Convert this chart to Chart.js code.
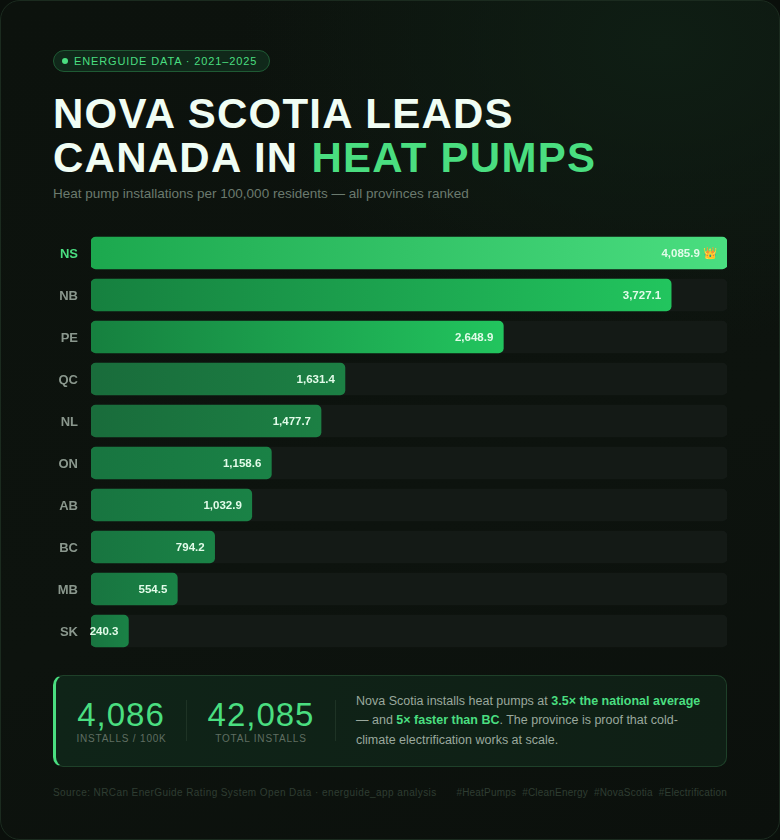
<!DOCTYPE html>
<html>
<head>
<meta charset="utf-8">
<script src="https://cdn.jsdelivr.net/npm/chart.js@4"></script>
<style>
* { box-sizing: border-box; margin: 0; padding: 0; }
html, body { width: 780px; height: 840px; background: #0a0f0b; overflow: hidden; font-family: "Liberation Sans", Arial, sans-serif; }
.card { position: absolute; left: 0; top: 0; width: 780px; height: 840px; border: 1px solid #1b2b1f; border-radius: 20px; background: radial-gradient(ellipse 420px 300px at 85% 5%, #0f1e14 0%, rgba(15,30,20,0) 100%), linear-gradient(160deg, #0c120d 0%, #0d130e 60%, #0b100c 100%); }
.badge { position: absolute; left: 53px; top: 50px; width: 217px; height: 22px; border: 1px solid #1f5a34; border-radius: 11px; background: #10281a; color: #4ade80; font-size: 11px; letter-spacing: .88px; line-height: 20px; padding-left: 20px; white-space: nowrap; }
.badge i { position: absolute; left: 8px; top: 7px; width: 6px; height: 6px; border-radius: 50%; background: #4ade80; }
h1 { position: absolute; left: 53px; top: 92px; font-size: 42px; line-height: 44px; font-weight: 700; letter-spacing: 1.26px; color: #f0fdf4; white-space: nowrap; }
h1 span { color: #4ade80; }
.sub { position: absolute; left: 53px; top: 186px; font-size: 13.5px; line-height: 15px; color: #6b7a6e; white-space: nowrap; }
.chart { position: absolute; left: 53px; top: 232px; width: 674px; height: 420px; }
.panel { position: absolute; left: 53px; top: 675px; width: 674px; height: 92px; border: 1px solid #1e4029; border-left: 3px solid #4ade80; border-radius: 10px; background: linear-gradient(90deg, #0f2418, #0f1f15); }
.num { position: absolute; color: #4ade80; font-size: 33px; line-height: 36px; letter-spacing: 1px; white-space: nowrap; text-align: center; }
.lab { position: absolute; color: #5f6e62; font-size: 10px; line-height: 12px; letter-spacing: .8px; white-space: nowrap; text-align: center; }
.rule { position: absolute; top: 700px; width: 1px; height: 41px; background: #1e3325; }
.note { position: absolute; left: 356px; top: 691.5px; width: 350px; font-size: 12.5px; line-height: 19.5px; color: #9aa89d; }
.note b { color: #4ade80; }
.src, .tags { position: absolute; top: 787px; font-size: 10px; line-height: 12px; color: #2f3d32; white-space: nowrap; }
.src { left: 53px; letter-spacing: .41px; }
.tags { right: 53px; letter-spacing: .2px; }
</style>
</head>
<body>
<div class="card"></div>
<div class="badge"><i></i>ENERGUIDE DATA · 2021–2025</div>
<h1>NOVA SCOTIA LEADS<br>CANADA IN <span>HEAT PUMPS</span></h1>
<div class="sub">Heat pump installations per 100,000 residents — all provinces ranked</div>
<div class="chart"><canvas id="barChart"></canvas></div>
<div class="panel"></div>
<div class="num" style="left:54px;top:697px;width:134px">4,086</div>
<div class="lab" style="left:53px;top:733px;width:137px">INSTALLS / 100K</div>
<div class="rule" style="left:186px"></div>
<div class="num" style="left:187px;top:697px;width:148px">42,085</div>
<div class="lab" style="left:187px;top:733px;width:148px">TOTAL INSTALLS</div>
<div class="rule" style="left:335px"></div>
<div class="note">Nova Scotia installs heat pumps at <b>3.5× the national average</b> — and <b>5× faster than BC</b>. The province is proof that cold-climate electrification works at scale.</div>
<div class="src">Source: NRCan EnerGuide Rating System Open Data · energuide_app analysis</div>
<div class="tags">#HeatPumps &nbsp;#CleanEnergy &nbsp;#NovaScotia &nbsp;#Electrification</div>

<script>
'use strict';

const provinces = ['NS', 'NB', 'PE', 'QC', 'NL', 'ON', 'AB', 'BC', 'MB', 'SK'];
const installs = [4085.9, 3727.1, 2648.9, 1631.4, 1477.7, 1158.6, 1032.9, 794.2, 554.5, 240.3];
const trackValues = [4085.9, 4085.9, 4085.9, 4085.9, 4085.9, 4085.9, 4085.9, 4085.9, 4085.9, 4085.9];

// gradient stops for each bar, left then right
const barStart = ['#1ca84e', '#16803f', '#16803f', '#196c3b', '#196c3b', '#187540', '#187540', '#187540', '#187540', '#187540'];
const barEnd = ['#4ade80', '#22c55e', '#22c55e', '#1c8044', '#1c8044', '#1a8246', '#1a8246', '#1a8246', '#1a8246', '#1a8246'];

function barGradient(context) {
    const area = context.chart.chartArea;
    const i = context.dataIndex;
    if (!area) return barEnd[i];
    const right = area.left + area.width * installs[i] / installs[0];
    const g = context.chart.ctx.createLinearGradient(area.left, 0, right, 0);
    g.addColorStop(0, barStart[i]);
    g.addColorStop(1, barEnd[i]);
    return g;
}

// value text inside the end of each bar
const valueLabels = {
    id: 'valueLabels',
    afterDatasetsDraw(chart) {
        const ctx = chart.ctx;
        ctx.save();
        ctx.font = 'bold 11.5px "Liberation Sans", Arial, sans-serif';
        ctx.fillStyle = '#e2fbe9';
        ctx.textAlign = 'right';
        ctx.textBaseline = 'middle';
        chart.getDatasetMeta(1).data.forEach((bar, i) => {
            let text = installs[i].toLocaleString('en-US', { minimumFractionDigits: 1 });
            if (i === 0) text += ' 👑';
            ctx.fillText(text, bar.x - 10, bar.y + 1);
        });
        ctx.restore();
    }
};

const ctx = document.getElementById('barChart').getContext('2d');
const chart = new Chart(ctx, {
    type: 'bar',
    data: {
        labels: provinces,
        datasets: [{
            data: trackValues,
            backgroundColor: '#141a16',
            borderRadius: 5,
            borderSkipped: false,
            barThickness: 32,
            order: 2
        }, {
            data: installs,
            backgroundColor: barGradient,
            borderRadius: 5,
            borderSkipped: false,
            barThickness: 32,
            order: 1
        }]
    },
    options: {
        indexAxis: 'y',
        responsive: true,
        maintainAspectRatio: false,
        animation: false,
        layout: { padding: 0 },
        plugins: { legend: { display: false }, tooltip: { enabled: false } },
        datasets: { bar: { grouped: false } },
        scales: {
            x: { display: false, min: 0, max: 4085.9 },
            y: {
                // fixed gutter, and no extra room above and below the rows
                afterFit(scale) {
                    scale.width = 38;
                    scale.paddingTop = 0;
                    scale.paddingBottom = 0;
                },
                border: { display: false },
                grid: { display: false, tickLength: 13 },
                ticks: {
                    padding: 0,
                    labelOffset: 1,
                    color: function (c) { return c.index === 0 ? '#4ade80' : '#8a978d'; },
                    font: { family: '"Liberation Sans", Arial, sans-serif', size: 13, weight: 'bold' }
                }
            }
        }
    },
    plugins: [valueLabels]
});
</script>
</body>
</html>
